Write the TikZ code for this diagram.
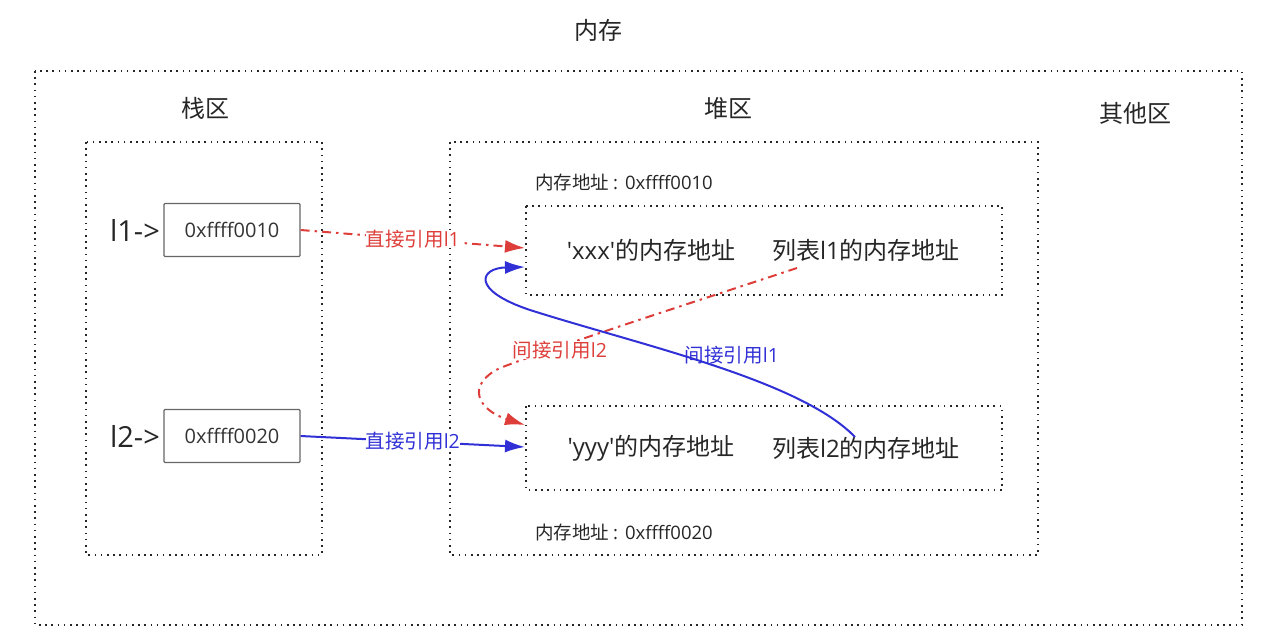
\documentclass[tikz,border=0pt]{standalone}
\usepackage{fontspec}
\setmainfont{Open Sans}
\newfontfamily\cjk{Noto Sans CJK SC}
\usetikzlibrary{arrows.meta}

\definecolor{refred}{RGB}{222,62,58}
\definecolor{refblue}{RGB}{48,48,214}

\tikzset{
  area/.style={draw=black!85, line width=2pt, dash pattern=on 1.6pt off 4.6pt},
  cell/.style={draw=black!60, line width=1.2pt, rounded corners=1pt, minimum width=136pt, minimum height=53pt, font=\fontsize{20}{20}\selectfont, text=black!80},
  head/.style={font=\cjk\fontsize{24}{24}\selectfont, text=black!85},
  addr/.style={font=\fontsize{18.5}{18.5}\selectfont, text=black!85},
  val/.style={font=\fontsize{24}{24}\selectfont, text=black!85},
  ref/.style={font=\fontsize{19.5}{19.5}\selectfont, fill=white, inner sep=0pt},
  direct/.style={line width=2pt, -{Latex[length=20pt,width=13pt]}},
  dashdot/.style={dash pattern=on 9pt off 5pt on 2.5pt off 5pt}
}

\begin{document}
\begin{tikzpicture}[x=1pt, y=-1pt]
\useasboundingbox (0,0) rectangle (1268,638);

% areas
\node[head] (mem) at (598,30) {内存};
\draw[area] (35,71) rectangle (1242,625);
\node[head] (stack) at (205,108) {栈区};
\node[head] (heap) at (728,108) {堆区};
\node[head] (other) at (1135,113) {其他区};
\draw[area] (86,142) rectangle (322,555);
\draw[area] (450,142) rectangle (1038,555);

% stack cells
\node[cell] (c1) at (232,230) {0xffff0010};
\node[cell] (c2) at (232,436) {0xffff0020};
\node[font=\fontsize{29}{29}\selectfont, text=black!85, anchor=east] (n1) at (c1.west) {l1->};
\node[font=\fontsize{29}{29}\selectfont, text=black!85, anchor=east] (n2) at (c2.west) {l2->};

% heap objects
\node[addr] (a1) at (624,182) {{\cjk 内存地址}\hspace{4pt}:\hspace{7pt}0xffff0010};
\node[addr] (a2) at (624,532) {{\cjk 内存地址}\hspace{4pt}:\hspace{7pt}0xffff0020};
\draw[area] (526,206) rectangle (1002,295);
\draw[area] (526,406) rectangle (1002,490);
\coordinate (o1) at (525,248);
\coordinate (o1b) at (525,267);
\coordinate (o2) at (525,425);
\coordinate (o2b) at (525,447);
\node[val] (s1) at (651,250) {\textquotesingle xxx\textquotesingle{\cjk 的内存地址}};
\node[val] (l1) at (866,250) {{\cjk 列表}l1{\cjk 的内存地址}};
\node[val] (s2) at (651,448) {\textquotesingle yyy\textquotesingle{\cjk 的内存地址}};
\node[val] (l2) at (866,448) {{\cjk 列表}l2{\cjk 的内存地址}};

% references
\draw[direct, refred, dashdot] (c1.east) -- node[ref, text=refred] {{\cjk 直接引用}l1} (o1);
\draw[direct, refblue] (c2.east) -- node[ref, text=refblue] {{\cjk 直接引用}l2} (o2b);
\draw[direct, refred, dashdot] (797,268) .. controls (700,300) and (560,345) .. (500,368)
  .. controls (465,385) and (478,410) .. (o2);
\node[ref, text=refred] (r2) at (560,350) {{\cjk 间接引用}l2};
\draw[direct, refblue] (855,437) .. controls (800,380) and (640,345) .. (530,310)
  .. controls (470,290) and (480,268) .. (o1b);
\node[ref, fill=none, text=refblue] (r1) at (732,355) {{\cjk 间接引用}l1};
\end{tikzpicture}
\end{document}
